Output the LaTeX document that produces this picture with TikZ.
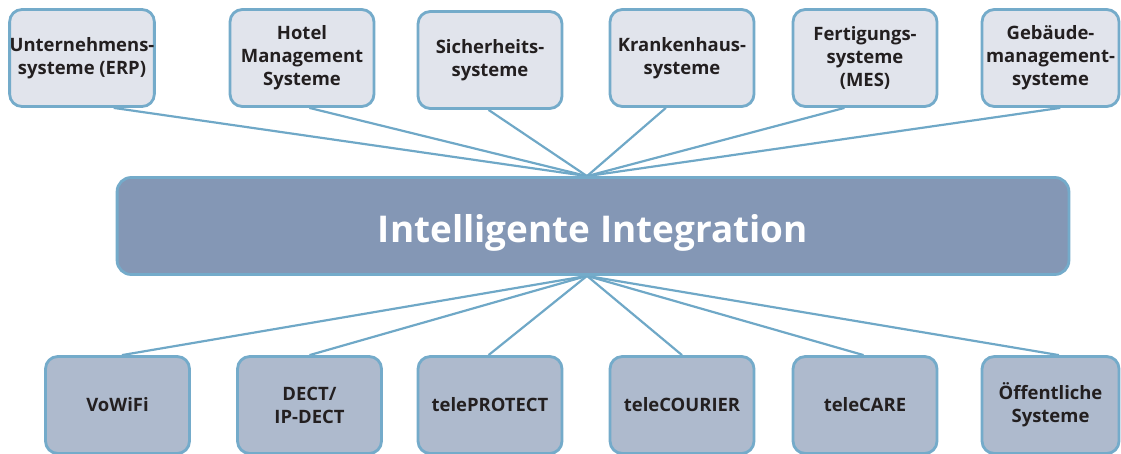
\documentclass[tikz,border=0pt]{standalone}
\usepackage{fontspec}
\setmainfont{Open Sans}
\usetikzlibrary{calc,backgrounds}
\definecolor{rimblue}{HTML}{74ABCA}
\definecolor{linkblue}{HTML}{6FA8C7}
\definecolor{topfill}{HTML}{E1E4EC}
\definecolor{hubfill}{HTML}{8497B5}
\definecolor{botfill}{HTML}{AEBACD}
\definecolor{inkdark}{HTML}{231F20}
\tikzset{
	sysbox/.style={draw=rimblue, line width=1.6pt, rounded corners=7pt, fill=topfill,
		minimum width=2.88cm, minimum height=1.94cm, align=center, text=inkdark,
		font=\fontsize{10.5}{13}\selectfont\bfseries, inner sep=0pt},
	devbox/.style={sysbox, fill=botfill},
	hubbox/.style={draw=rimblue, line width=1.6pt, rounded corners=8pt, fill=hubfill,
		minimum width=19.04cm, minimum height=1.94cm, text=white,
		text height=19pt, text depth=0pt,
		font=\fontsize{21}{25}\selectfont\bfseries},
	link/.style={draw=linkblue, line width=1.25pt}
}
\begin{document}
\begin{tikzpicture}[x=0.02cm, y=-0.02cm]
		%%%%% START %%%%%
		\useasboundingbox (0,0) rectangle (1121,453);
		
		% upper row
		\node[sysbox] (erp) at (82,58) {Unternehmens-\\systeme (ERP)};
		\node[sysbox] (hotel) at (302,58) {Hotel\\Management\\Systeme};
		\node[sysbox] (safety) at (490,60) {Sicherheits-\\systeme};
		\node[sysbox] (clinic) at (682,58) {Krankenhaus-\\systeme};
		\node[sysbox] (mes) at (865,58) {Fertigungs-\\systeme\\(MES)};
		\node[sysbox, minimum width=2.74cm] (facility) at (1050.5,58) {Gebäude-\\management-\\systeme};
		
		% middle
		\node[hubbox] (integ) at (593,226) {Intelligente Integration};
		\coordinate (hubtop) at ($(integ.north)+(-6,0)$);
		\coordinate (hubbot) at ($(integ.south)+(-6,0)$);
		
		% lower row
		\node[devbox] (wifi) at (117.5,405) {VoWiFi};
		\node[devbox] (dect) at (309.5,405) {DECT/\\IP-DECT};
		\node[devbox] (protect) at (490,405) {telePROTECT};
		\node[devbox] (courier) at (682,405) {teleCOURIER};
		\node[devbox] (care) at (865,405) {teleCARE};
		\node[devbox, minimum width=2.74cm] (public) at (1050.5,405) {Öffentliche\\Systeme};
		
		% spokes
		\begin{scope}[on background layer]
		\foreach \sys/\pos in {erp/0.715, hotel/0.55, safety/0.49, clinic/0.39, mes/0.36, facility/0.57}
			\draw[link] ($(\sys.south west)!\pos!(\sys.south east)$) -- (hubtop);
		\foreach \sys/\pos in {wifi/0.53, dect/0.5, protect/0.49, courier/0.5, care/0.49, public/0.56}
			\draw[link] ($(\sys.north west)!\pos!(\sys.north east)$) -- (hubbot);
		\end{scope}
		%%%%% END %%%%%
\end{tikzpicture}
\end{document}
